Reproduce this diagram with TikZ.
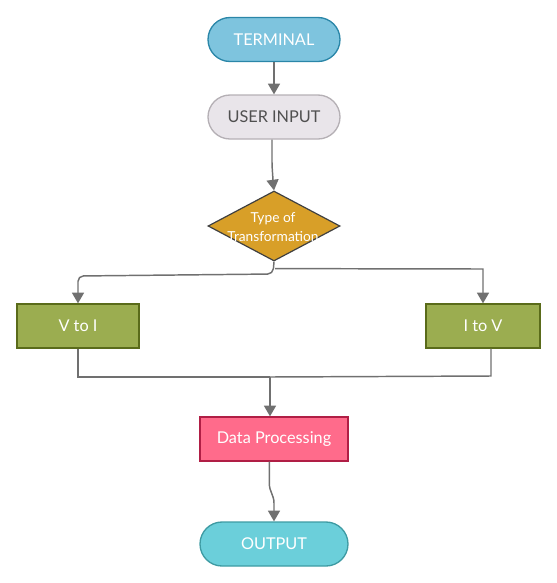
\documentclass[tikz,border=0pt]{standalone}
\usepackage{fontspec}
\setmainfont{Lato}
\usetikzlibrary{shapes.geometric,arrows.meta}
\definecolor{termfill}{HTML}{7EC4DE}
\definecolor{termdraw}{HTML}{2A86A8}
\definecolor{userfill}{HTML}{E9E5EA}
\definecolor{userdraw}{HTML}{B5B0B5}
\definecolor{usertext}{HTML}{505050}
\definecolor{decfill}{HTML}{D89F28}
\definecolor{decdraw}{HTML}{404040}
\definecolor{grfill}{HTML}{9BAD50}
\definecolor{grdraw}{HTML}{5A6B1A}
\definecolor{pkfill}{HTML}{FF6B8B}
\definecolor{pkdraw}{HTML}{B01E45}
\definecolor{outfill}{HTML}{6BCFDA}
\definecolor{outdraw}{HTML}{3E9BA3}
\definecolor{conncol}{HTML}{707070}
\tikzset{
  pill/.style={rectangle, rounded corners=16.5pt, minimum width=99pt, minimum height=33pt, line width=1pt, font=\fontsize{12.2}{14}\selectfont, text=white},
  boxnode/.style={rectangle, minimum height=33pt, line width=1pt, font=\fontsize{12.2}{14}\selectfont, text=white},
  conn/.style={draw=conncol, line width=1.1pt},
  arr/.style={conn, -{Triangle[length=8pt,width=9pt]}}
}
\begin{document}
\begin{tikzpicture}[x=0.75pt,y=-0.75pt]
\useasboundingbox (0,0) rectangle (557,583);
\node[pill, fill=termfill, draw=termdraw] (term) at (274,39.5) {TERMINAL};
\node[pill, fill=userfill, draw=userdraw, text=usertext] (user) at (274,117) {USER INPUT};
\node[diamond, fill=decfill, draw=decdraw, line width=0.9pt, minimum width=99pt, minimum height=52.5pt, inner sep=0pt] (dec) at (274,226) {};
\node[font=\fontsize{10.3}{14.5}\selectfont, text=white, align=center] (dectext) at (273,227) {Type of\\Transformation};
\node[boxnode, fill=grfill, draw=grdraw, minimum width=91.5pt] (vtoi) at (78,326) {V to I};
\node[boxnode, fill=grfill, draw=grdraw, minimum width=85.5pt] (itov) at (483,326) {I to V};
\node[boxnode, fill=pkfill, draw=pkdraw, minimum width=111pt] (dp) at (274,439) {Data Processing};
\node[pill, fill=outfill, draw=outdraw, minimum width=111pt] (out) at (274,544) {OUTPUT};

\draw[arr] (term) -- (user);
\draw[arr] (user.south) ++(-2,0) -- ++(0,22) .. controls +(0,8) and +(0,-8) .. (273,183) -- (dec.north);
\draw[arr, rounded corners=4pt] (dec.south) -- (273,274) -- (78,276) -- (vtoi.north);
\draw[arr] (dec.south) ++(1,7) -- (483,269) -- (itov.north);
\coordinate (m) at (270,377);
\draw[conn] (vtoi.south) -- (78,377) -- (m);
\draw[conn] ([xshift=6pt]itov.south) -- (491,376) -- (m);
\draw[arr] (m) -- (m |- dp.north);
\draw[arr] ([xshift=-3.5pt]dp.south) -- ++(0,22) .. controls +(0,8) and +(0,-8) .. (274,503) -- (out.north);
\end{tikzpicture}
\end{document}
